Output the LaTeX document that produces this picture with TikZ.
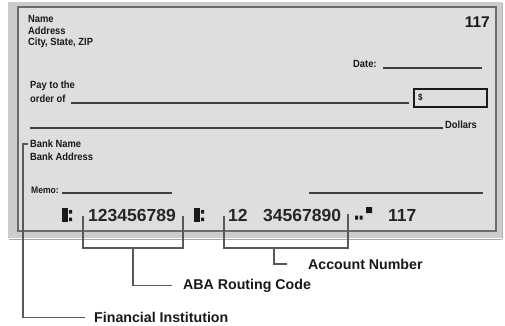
\documentclass[tikz,border=0pt]{standalone}
\usepackage{fontspec}
\setmainfont{Liberation Sans}
\begin{document}
\begin{tikzpicture}[x=1pt,y=-1pt,
  sm/.style={font=\fontsize{10.4}{11}\selectfont\bfseries, anchor=west, inner sep=0pt, text=black!90, xscale=0.9},
  micr/.style={font=\fontsize{17.5}{18}\selectfont\bfseries, anchor=west, inner sep=0pt, text=black!85},
  lbl/.style={font=\fontsize{14.2}{15}\selectfont\bfseries, anchor=west, inner sep=0pt, text=black!90},
  fieldline/.style={draw=black!75, line width=1.3pt},
  bracket/.style={draw=black!65, line width=1.8pt},
]
\useasboundingbox (0,0) rectangle (505,325);
% check frame
\fill[white] (0,0) rectangle (505,325);
\fill[black!20] (8,2) rectangle (502,238);
\draw[black!35, line width=1pt] (9,239.5) -- (502,239.5);
\draw[black!30, line width=1pt] (502,3) -- (502,239);
\fill[black!13] (18,7) rectangle (496,231);
\draw[black!58, line width=2.6pt] (18,7) rectangle (496,231);
% texts
\node[sm] (name) at (28,19) {Name};
\node[sm] (addr) at (28,31) {Address};
\node[sm] (city) at (28,43) {City, State, ZIP};
\node[font=\fontsize{15.5}{16}\selectfont\bfseries, anchor=east, inner sep=0pt, text=black!90] (num) at (490,22) {117};
\node[sm] (date) at (353,64) {Date:};
\coordinate (dateE) at (482,68);
\draw[fieldline] (383,68) -- (dateE);
\node[sm] (pay) at (30,86) {Pay to the};
\node[sm] (order) at (30,99) {order of};
\coordinate (payE) at (409,103);
\draw[fieldline] (71,103) -- (payE);
\node[draw=black!90, line width=1.5pt, minimum width=73pt, minimum height=18pt, inner sep=0pt, anchor=north west] (amt) at (413,88) {};
\node[sm, font=\fontsize{9}{10}\selectfont\bfseries] (dollar) at (418,97) {\$};
\node[sm] (dollars) at (445,124.5) {Dollars};
\coordinate (dolS) at (30,128);
\draw[fieldline] (dolS) -- (443,128);
\node[sm] (bank) at (30,144) {Bank Name};
\node[sm] (baddr) at (30,157) {Bank Address};
\node[sm, font=\fontsize{9.5}{10}\selectfont\bfseries] (memo) at (31,190) {Memo:};
\draw[fieldline] (62,193) -- (172,193);
\coordinate (sigS) at (309,193);
\draw[fieldline] (sigS) -- (483,193);
% MICR line
\fill[black!90] (62,208) rectangle (67.5,222);
\fill[black!90] (69,210) rectangle (72,213.5) (69,217.5) rectangle (72,221);
\node[micr] (routing) at (88,215) {123456789};
\fill[black!90] (194,208) rectangle (199.5,222);
\fill[black!90] (201,210) rectangle (204,213.5) (201,217.5) rectangle (204,221);
\node[micr] (acc1) at (228,215) {12};
\node[micr] (acc2) at (263,215) {34567890};
\fill[black!90] (355,215.5) rectangle (358,219.5) (359.5,215.5) rectangle (362.5,219.5) (366,207) rectangle (372,213);
\node[micr] (chk) at (388,215) {117};
% labels
\node[lbl] (lacc) at (308,264) {Account Number};
\node[lbl] (laba) at (183,285.5) {ABA Routing Code};
\node[lbl] (lfin) at (94,317.5) {Financial Institution};
% brackets
\coordinate (rL) at (83,216);
\coordinate (rR) at (183,216);
\coordinate (rB) at (133,248);
\coordinate (aL) at (224,216);
\coordinate (aR) at (348,214);
\coordinate (aB) at (274,248);
\coordinate (fT) at (28,144);
\draw[bracket] (rL) -- (83,248) -- (183,248) -- (rR);
\draw[bracket] (rB) |- ([xshift=-11pt]laba.west);
\draw[bracket] (aL) -- (224,248) -- (348,248) -- (aR);
\draw[bracket] (aB) |- ([xshift=-21pt]lacc.west);
\draw[bracket] (fT) -- (23,144) |- ([xshift=-9pt]lfin.west);
\end{tikzpicture}
\end{document}
